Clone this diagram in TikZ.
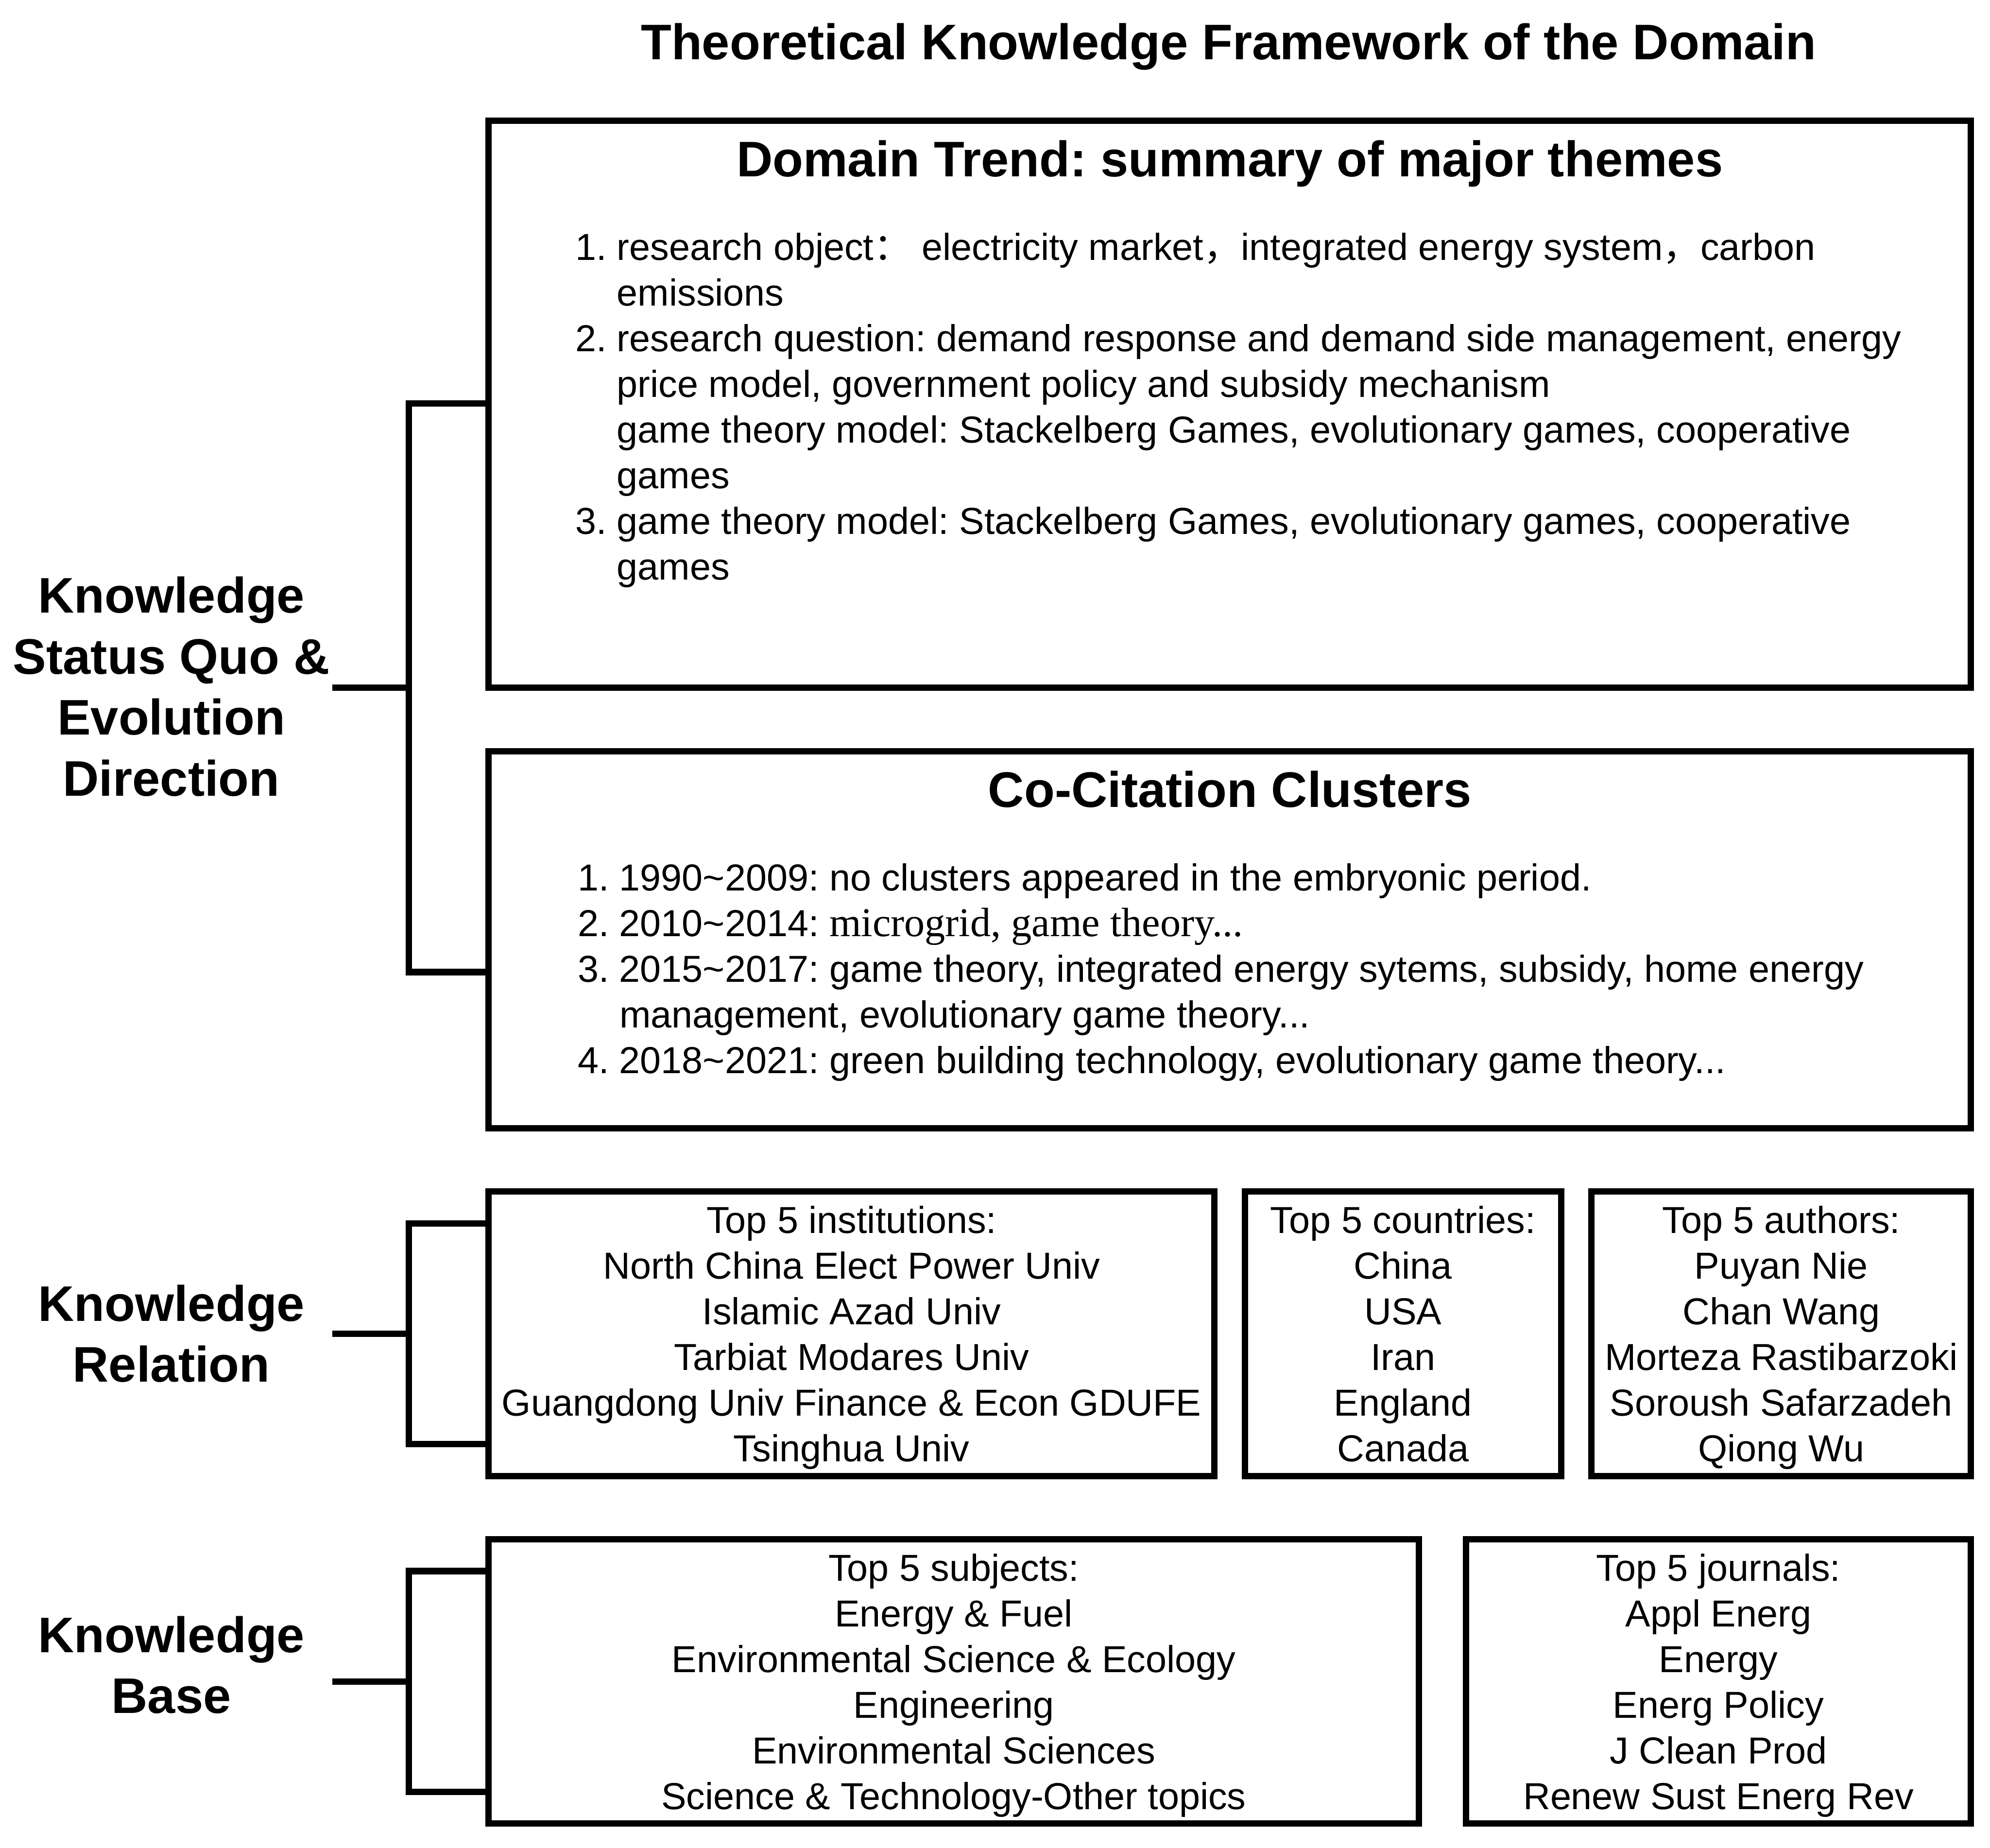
\documentclass[tikz,border=0pt]{standalone}
\usepackage{fontspec}
\setmainfont{Liberation Sans}
\newfontfamily\serifpart[Scale=1.09]{Liberation Serif}
\newfontfamily\cjkpunct{Noto Sans CJK SC}
\usetikzlibrary{positioning}
\frenchspacing

\begin{document}
\begin{tikzpicture}[x=0.5pt, y=-0.5pt,
    box/.style={draw=black, line width=2.5pt, outer sep=0pt, inner sep=0pt},
    smallbox/.style={box, align=center, minimum height=112pt, text depth=0pt, font=\fontsize{14.8}{18}\selectfont},
    headtext/.style={font=\fontsize{19.7}{24}\selectfont\bfseries, inner sep=0pt, anchor=base},
    listtext/.style={font=\fontsize{14.8}{18}\selectfont, inner sep=0pt, anchor=base west},
    sidelabel/.style={font=\fontsize{19.7}{24}\selectfont\bfseries, align=center, inner sep=0pt},
    bracket/.style={line width=2.5pt}]

    % Rahmen des Bildes (Maße in Pixeln der Vorlage)
    \useasboundingbox (0,0) rectangle (1568,1456);

    % Titel ganz oben
    \node[headtext] (title) at (968,47) {Theoretical Knowledge Framework of the Domain};

    % Die beiden großen Kästen (Stand und Entwicklung)
    \node[box, minimum width=584pt, minimum height=223.5pt, anchor=north west] (trend) at (385,95) {};
    \node[box, minimum width=584pt, minimum height=148.5pt, below=25pt of trend.south west, anchor=north west] (cocit) {};

    % Überschriften in den großen Kästen
    \node[headtext] (trendhead) at ([yshift=-22pt]trend.north) {Domain Trend: summary of major themes};
    \node[headtext] (cocithead) at ([yshift=-22pt]cocit.north) {Co-Citation Clusters};

    % Nummerierte Listen
    \node[listtext] (trendlist) at ([xshift=34pt, yshift=-55pt]trend.north west) {%
      \begin{tabular}[t]{@{}r@{\hspace{4pt}}l@{}}
        1. & research object{\cjkpunct ：} electricity market{\cjkpunct ，}integrated energy system{\cjkpunct ，}carbon\\
           & emissions\\
        2. & research question: demand response and demand side management, energy\\
           & price model, government policy and subsidy mechanism\\
           & game theory model: Stackelberg Games, evolutionary games, cooperative\\
           & games\\
        3. & game theory model: Stackelberg Games, evolutionary games, cooperative\\
           & games
      \end{tabular}};
    \node[listtext] (cocitlist) at ([xshift=35pt, yshift=-55pt]cocit.north west) {%
      \begin{tabular}[t]{@{}r@{\hspace{4pt}}l@{}}
        1. & 1990\textasciitilde2009: no clusters appeared in the embryonic period.\\
        2. & 2010\textasciitilde2014: {\serifpart microgrid, game theory...}\\
        3. & 2015\textasciitilde2017: game theory, integrated energy sytems, subsidy, home energy\\
           & management, evolutionary game theory...\\
        4. & 2018\textasciitilde2021: green building technology, evolutionary game theory...
      \end{tabular}};

    % Kästen der Wissensbeziehungen
    \node[smallbox, minimum width=286pt, below=25pt of cocit.south west, anchor=north west] (inst)
      {Top 5 institutions:\\North China Elect Power Univ\\Islamic Azad Univ\\Tarbiat Modares Univ\\Guangdong Univ Finance \& Econ GDUFE\\Tsinghua Univ};
    \node[smallbox, minimum width=124.5pt, right=12pt of inst.north east, anchor=north west] (ctry)
      {Top 5 countries:\\China\\USA\\Iran\\England\\Canada};
    \node[smallbox, minimum width=149.5pt, right=12pt of ctry.north east, anchor=north west] (auth)
      {Top 5 authors:\\Puyan Nie\\Chan Wang\\Morteza Rastibarzoki\\Soroush Safarzadeh\\Qiong Wu};

    % Kästen der Wissensbasis
    \node[smallbox, minimum width=366.5pt, below=25pt of inst.south west, anchor=north west] (subj)
      {Top 5 subjects:\\Energy \& Fuel\\Environmental Science \& Ecology\\Engineering\\Environmental Sciences\\Science \& Technology-Other topics};
    \node[smallbox, minimum width=199pt, right=18.5pt of subj.north east, anchor=north west] (jour)
      {Top 5 journals:\\Appl Energ\\Energy\\Energ Policy\\J Clean Prod\\Renew Sust Energ Rev};

    % Beschriftungen links
    \node[sidelabel] (statusquo) at (135,541) {Knowledge\\Status Quo \&\\Evolution\\Direction};
    \node[sidelabel] (relation) at (135,1051) {Knowledge\\Relation};
    \node[sidelabel] (kbase) at (135,1312) {Knowledge\\Base};

    % Klammer oben
    \coordinate (sqtop) at (322,318);
    \coordinate (sqbot) at (322,766);
    \coordinate (sqend) at (262,542);
    \draw[bracket] (trend.west |- sqtop) -- (sqtop) -- (sqbot) -- (cocit.west |- sqbot);
    \draw[bracket] (sqend) -- (sqtop |- sqend);

    % Klammer Mitte
    \coordinate (reltop) at (322,964);
    \coordinate (relbot) at (322,1138);
    \coordinate (relend) at (262,1051);
    \draw[bracket] (inst.west |- reltop) -- (reltop) -- (relbot) -- (inst.west |- relbot);
    \draw[bracket] (relend) -- (reltop |- relend);

    % Klammer unten
    \coordinate (bstop) at (322,1238);
    \coordinate (bsbot) at (322,1412);
    \coordinate (bsend) at (262,1325);
    \draw[bracket] (subj.west |- bstop) -- (bstop) -- (bsbot) -- (subj.west |- bsbot);
    \draw[bracket] (bsend) -- (bstop |- bsend);

\end{tikzpicture}
\end{document}
